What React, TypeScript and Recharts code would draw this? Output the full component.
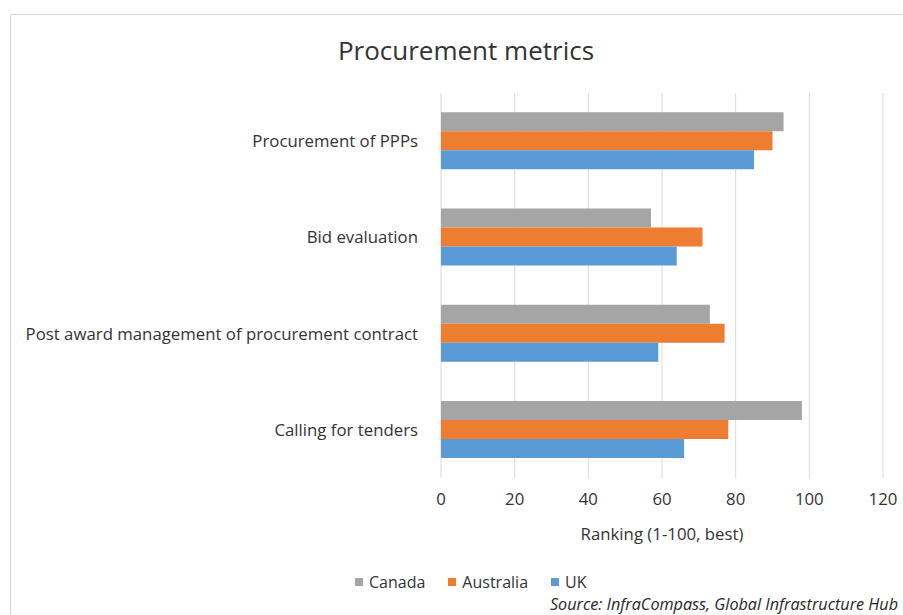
import React from "react";
import {
  Bar,
  BarChart,
  CartesianGrid,
  Label,
  Legend,
  XAxis,
  YAxis,
} from "recharts";

const categories = [
  "Procurement of PPPs",
  "Bid evaluation",
  "Post award management of procurement contract",
  "Calling for tenders",
];
const canada = [93, 57, 73, 98];
const australia = [90, 71, 77, 78];
const uk = [85, 64, 59, 66];
const xTicks = [0, 20, 40, 60, 80, 100, 120];

const seriesList = [
  { key: "Canada", color: "#A5A5A5" },
  { key: "Australia", color: "#ED7D31" },
  { key: "UK", color: "#5B9BD5" },
];

const FONT = '"Open Sans", sans-serif';
const TEXT = "#333333";

const chartData = categories.map((name, i) => ({
  name,
  Canada: canada[i],
  Australia: australia[i],
  UK: uk[i],
}));

function LegendContent() {
  return (
    <div
      style={{
        display: "flex",
        alignItems: "center",
        fontFamily: FONT,
        fontSize: 16,
        lineHeight: "14px",
        color: TEXT,
      }}
    >
      {seriesList.map((s) => (
        <div key={s.key} style={{ display: "flex", alignItems: "center", marginRight: 23 }}>
          <span style={{ width: 8, height: 8, background: s.color, marginRight: 6, display: "inline-block" }} />
          <span>{s.key}</span>
        </div>
      ))}
    </div>
  );
}

export default function App() {
  return (
    <div
      style={{
        position: "fixed",
        left: 0,
        top: 0,
        width: 903,
        height: 615,
        overflow: "hidden",
        background: "#fff",
      }}
    >
      <div
        style={{
          position: "absolute",
          left: 10,
          top: 14,
          width: 920,
          height: 640,
          border: "1px solid #d9d9d9",
        }}
      />
      <div
        style={{
          position: "absolute",
          left: 0,
          width: 932,
          top: 32,
          textAlign: "center",
          fontFamily: FONT,
          fontSize: 26,
          color: "#333333",
        }}
      >
        Procurement metrics
      </div>
      <div style={{ position: "absolute", left: 0, top: 0 }}>
        <BarChart
          width={903}
          height={615}
          data={chartData}
          layout="vertical"
          margin={{ top: 93, right: 20, bottom: 75, left: 0 }}
          barCategoryGap="20%"
          barGap={0}
        >
          <CartesianGrid horizontal={false} stroke="#d9d9d9" />
          <XAxis
            type="number"
            domain={[0, 120]}
            ticks={xTicks}
            axisLine={false}
            tickLine={false}
            tickMargin={9}
            height={62}
            tick={{ fontSize: 16.8, fill: TEXT, fontFamily: FONT }}
          >
            <Label
              value="Ranking (1-100, best)"
              position="insideBottom"
              offset={0}
              style={{ fontSize: 16.8, fill: TEXT, fontFamily: FONT }}
            />
          </XAxis>
          <YAxis
            type="category"
            dataKey="name"
            width={441}
            axisLine={false}
            tickLine={false}
            tickMargin={17}
            tick={{ fontSize: 16.8, fill: TEXT, fontFamily: FONT }}
          />
          <Legend
            layout="horizontal"
            verticalAlign="middle"
            align="center"
            content={<LegendContent />}
            wrapperStyle={{ top: 575, left: 355, width: 300, height: 14 }}
          />
          {seriesList.map((s) => (
            <Bar key={s.key} dataKey={s.key} fill={s.color} isAnimationActive={false} />
          ))}
        </BarChart>
      </div>
      <div
        style={{
          position: "absolute",
          right: 5,
          top: 597,
          fontFamily: FONT,
          fontSize: 16.2,
          lineHeight: "14px",
          fontStyle: "italic",
          color: "#262626",
          whiteSpace: "nowrap",
        }}
      >
        Source: InfraCompass, Global Infrastructure Hub
      </div>
    </div>
  );
}
